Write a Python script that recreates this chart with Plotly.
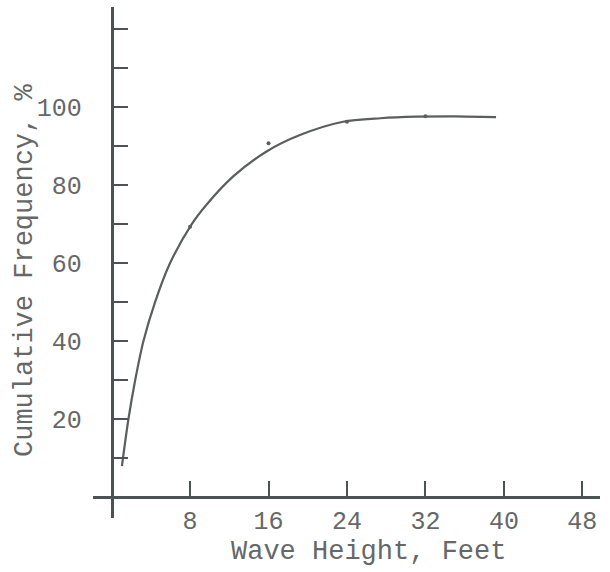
import plotly.graph_objects as go

# Smooth fitted curve
wave_height = [1.05, 1.71, 2.4, 3.24, 4.43, 5.96, 8.17, 9.65, 12.4, 15.8, 19.2, 23.6, 27.4, 31.1, 35.0, 39.2]
cum_freq = [8.0, 20.0, 30.0, 40.0, 50.0, 60.0, 70.0, 74.9, 82.2, 88.6, 92.8, 96.2, 97.1, 97.5, 97.6, 97.4]

# Observed points
obs_height = [8, 16, 24, 32]
obs_freq = [69.3, 90.7, 96.2, 97.6]

x_ticks = [8, 16, 24, 32, 40, 48]
x_labels = ["8", "16", "24", "32", "40", "48"]
y_ticks = [10, 20, 30, 40, 50, 60, 70, 80, 90, 100, 110, 120]
y_labels = ["", "20", "", "40", "", "60", "", "80", "", "100", "", ""]

X_RANGE = [-1.9, 49.8]
Y_RANGE = [-5.3, 125.6]

axis_col = "#4d5252"
text_col = "#666868"
font_fam = "Liberation Mono, Courier New, monospace"

fig = go.Figure()
fig.add_trace(go.Scatter(x=wave_height, y=cum_freq, mode="lines",
                         line=dict(color="#5a5e5e", width=2.2, shape="spline", smoothing=0.8),
                         showlegend=False, hoverinfo="skip"))
fig.add_trace(go.Scatter(x=obs_height, y=obs_freq, mode="markers",
                         marker=dict(color="#5a5e5e", size=4),
                         showlegend=False))

xpos = (0 - X_RANGE[0]) / (X_RANGE[1] - X_RANGE[0])
ypos = (0 - Y_RANGE[0]) / (Y_RANGE[1] - Y_RANGE[0])

fig.update_layout(
    width=610, height=572,
    margin=dict(l=93, r=10, t=7, b=54),
    paper_bgcolor="white", plot_bgcolor="white",
    font=dict(family=font_fam, color=text_col),
    xaxis=dict(range=X_RANGE, showgrid=False, zeroline=False,
               showline=True, linecolor=axis_col, linewidth=2.5,
               anchor="free", position=ypos,
               tickmode="array", tickvals=x_ticks, ticktext=x_labels,
               ticks="inside", ticklen=16, tickwidth=2, tickcolor=axis_col,
               tickfont=dict(size=25, family=font_fam, color=text_col)),
    yaxis=dict(range=Y_RANGE, showgrid=False, zeroline=False,
               showline=True, linecolor=axis_col, linewidth=2.5,
               anchor="free", position=xpos,
               tickmode="array", tickvals=y_ticks, ticktext=y_labels,
               ticks="inside", ticklen=15, tickwidth=2, tickcolor=axis_col,
               ticklabelstandoff=24,
               tickfont=dict(size=25, family=font_fam, color=text_col)),
    annotations=[
        dict(text="Wave Height, Feet", xref="paper", yref="paper",
             x=(368 - 93) / 507, y=-(552 - 518) / 511, xanchor="center", yanchor="middle",
             showarrow=False, font=dict(size=27, family=font_fam, color=text_col)),
        dict(text="Cumulative Frequency, %", xref="paper", yref="paper",
             x=-(93 - 25) / 507, y=(518 - 271) / 511, xanchor="center", yanchor="middle",
             textangle=-90, showarrow=False,
             font=dict(size=27, family=font_fam, color=text_col)),
    ],
)

fig.write_html("out.html")
